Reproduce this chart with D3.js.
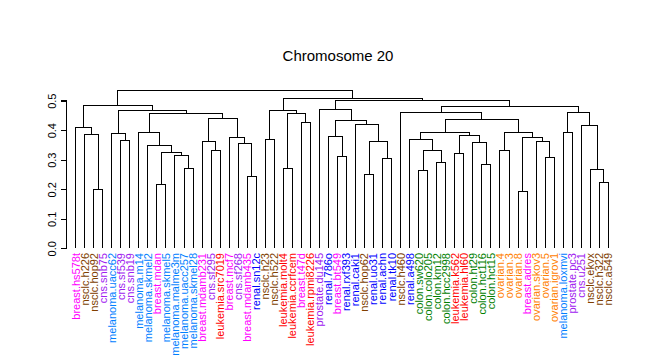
<!DOCTYPE html>
<html>
<head>
<meta charset="utf-8">
<script src="https://cdn.jsdelivr.net/npm/d3@7"></script>
<style>
  body { margin: 0; background: #fff; }
  svg { display: block; }
  text { font-family: "Liberation Sans", Arial, sans-serif; }
</style>
</head>
<body>
<svg id="chart" width="647" height="360"></svg>
<script>
// ---- Data ----
const title = "Chromosome 20";

const leafLabels = [
  "breast.hs578t","nsclc.h226","nsclc.hop92","cns.snb75","melanoma.uacc62",
  "cns.sf539","cns.snb19","melanoma.m14","melanoma.skmel2","breast.mdan",
  "melanoma.skmel5","melanoma.malme3m","melanoma.uacc257","melanoma.skmel28","breast.mdamb231",
  "cns.sf295","leukemia.src7019","breast.mcf7","cns.sf268","breast.mdamb435",
  "renal.sn12c","nsclc.h23","nsclc.h522","leukemia.molt4","leukemia.ccrfcem",
  "breast.t47d","leukemia.rpmi8226","prostate.du145","renal.786o","breast.bt549",
  "renal.rxf393","renal.caki1","nsclc.hop62","renal.uo31","renal.achn",
  "renal.tk10","nsclc.h460","renal.a498","colon.sw620","colon.colo205",
  "colon.km12","colon.hcc2998","leukemia.k562","leukemia.hl60","colon.ht29",
  "colon.hct116","colon.hct15","ovarian.4","ovarian.3","ovarian.8",
  "breast.adres","ovarian.skov3","ovarian.5","ovarian.igrov1","melanoma.loxmvi",
  "prostate.pc3","cns.u251","nsclc.ekvx","nsclc.h322","nsclc.a549"
];

// hclust-style merge list: negative = leaf (1-based), positive = earlier merge row (1-based)
const mergeLeft  = [-3,-2,-1,-6,-5,-10,-13,-12,6,-9,-8,-16,-15,-20,-19,-18,13,11,5,3,
                    -22,-24,-26,22,21,-30,-29,-33,-35,28,-32,27,-28,-39,-41,34,-38,-43,-46,-45,
                    38,37,-48,-50,-53,-52,44,43,42,-37,-55,-59,-58,-57,51,50,33,25,20];
const mergeRight = [-4,1,2,-7,4,-11,-14,7,8,9,10,-17,12,-21,14,15,16,17,18,19,
                    -23,-25,-27,23,24,-31,26,-34,-36,29,30,31,32,-40,-42,35,36,-44,-47,39,
                    40,41,-49,-51,-54,45,46,47,48,49,-56,-60,52,53,54,55,56,57,58];
const mergeHeight = [0.200,0.386,0.410,0.366,0.390,0.217,0.271,0.314,0.325,0.349,
                     0.393,0.332,0.363,0.244,0.356,0.376,0.441,0.458,0.466,0.482,
                     0.369,0.271,0.427,0.455,0.468,0.312,0.380,0.251,0.305,0.363,
                     0.418,0.434,0.471,0.264,0.290,0.332,0.369,0.322,0.285,0.359,
                     0.383,0.393,0.332,0.193,0.308,0.363,0.376,0.393,0.437,0.461,
                     0.393,0.224,0.268,0.417,0.461,0.481,0.502,0.507,0.535];

const yTicks = [0.0, 0.1, 0.2, 0.3, 0.4, 0.5];

const tissueColors = {
  breast: "#FF00FF", nsclc: "#804000", cns: "#A020F0", melanoma: "#0080FF",
  leukemia: "#FF0000", renal: "#0000FF", prostate: "#A020F0", colon: "#008000",
  ovarian: "#FF8000"
};

// ---- Build tree ----
function buildNode(ref) {
  if (ref < 0) return { name: leafLabels[-ref - 1], height: 0 };
  const i = ref - 1;
  return { height: mergeHeight[i], children: [buildNode(mergeLeft[i]), buildNode(mergeRight[i])] };
}
const root = d3.hierarchy(buildNode(mergeHeight.length));

// ---- Scales ----
const x = d3.scalePoint().domain(leafLabels).range([75.7, 608.3]);
const y = d3.scaleLinear().domain([0, 0.5]).range([248.33, 100.67]);

root.eachAfter(n => {
  n.px = n.children ? (n.children[0].px + n.children[1].px) / 2 : x(n.data.name);
  n.py = y(n.data.height);
});

const svg = d3.select("#chart");

// Title
svg.append("text")
  .attr("x", 338).attr("y", 60.5)
  .attr("text-anchor", "middle")
  .attr("font-size", "15px")
  .attr("fill", "#000")
  .text(title);

// Dendrogram links (elbow shape)
const g = svg.append("g")
  .attr("fill", "none").attr("stroke", "#000").attr("stroke-width", 1)
  .attr("shape-rendering", "crispEdges");

root.each(n => {
  if (!n.children) return;
  const [a, b] = n.children;
  g.append("path").attr("d",
    `M${a.px},${a.py}V${n.py}H${b.px}V${b.py}`);
});

// Y axis
const axis = d3.axisLeft(y).tickValues(yTicks).tickFormat(d3.format(".1f")).tickSize(5).tickPadding(0);
const ax = svg.append("g").attr("transform", "translate(66,0)").call(axis);
ax.select(".domain").attr("d", `M-5,${y(0)}H0V${y(0.5)}H-5`).attr("stroke", "#000")
  .attr("shape-rendering", "crispEdges");
ax.selectAll(".tick line").attr("stroke", "#000").attr("shape-rendering", "crispEdges");
ax.selectAll(".tick text")
  .attr("font-size", "11px")
  .attr("font-family", "Liberation Sans, Arial, sans-serif")
  .attr("fill", "#000")
  .attr("text-anchor", "middle")
  .attr("x", null).attr("dy", null)
  .attr("transform", "translate(-10,0) rotate(-90)");

// Leaf labels
svg.append("g").selectAll("text")
  .data(root.leaves())
  .join("text")
  .attr("transform", d => `translate(${d.px},253) rotate(-90)`)
  .attr("dy", "0.35em")
  .attr("text-anchor", "end")
  .attr("font-size", "11px")
  .attr("fill", d => tissueColors[d.data.name.split(".")[0]])
  .text(d => d.data.name);
</script>
</body>
</html>
